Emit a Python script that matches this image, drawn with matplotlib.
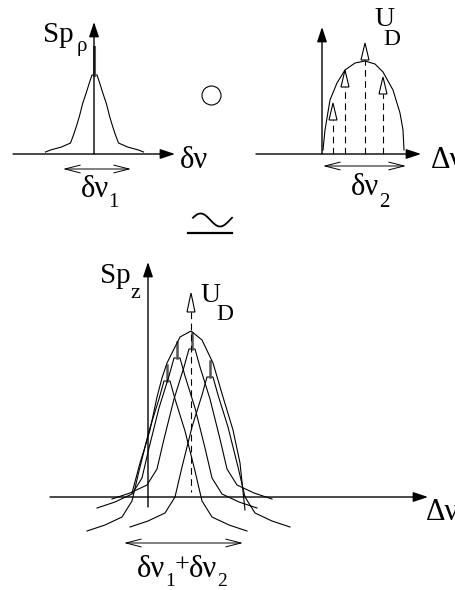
#!/usr/bin/env python3
"""
Schematic: narrow line spectrum convolved with Doppler profile
"""

import numpy as np
import matplotlib.pyplot as plt
from matplotlib.patches import Circle, Polygon

# narrow line (top left), half profile: offset from centre, height above base
NARROW_DX = [2.5, 5.5, 8, 12, 15, 18, 21, 24, 33, 44, 49]
NARROW_H = [77, 68, 60, 48, 36, 26, 17, 9, 5, 2, 0]
NARROW_SPIKE = 105

# broadened copies (bottom), half profile
WIDE_DX = [3, 8, 18, 28, 35, 45, 62, 80]
WIDE_H = [150, 132, 100, 60, 30, 14, 6, 0]
WIDE_SPIKE = 166
wide_centres = [167, 177, 192, 210]
wide_bases = [531, 508, 499, 527]

# Doppler dome (top right)
dome_x = [323, 325, 330, 337, 345, 355, 365, 375, 383, 393, 400, 403, 404]
dome_y = [150, 130, 100, 83, 70, 63, 61, 64, 72, 90, 113, 130, 150]
comp_x = [333, 345, 365, 383]
comp_y = [120, 87, 60, 94]

# envelope (bottom)
env_x = [132, 140, 145, 150, 157, 162, 167, 180, 191, 202, 213, 223, 233, 240, 245]
env_y = [493, 463, 447, 430, 397, 378, 363, 337, 331, 340, 363, 397, 430, 463, 510]

LW = 0.8
FONT = 'Liberation Serif'
DASH = (0, (6, 4))


def profile(cx, base, dx, h, spike):
    xs = [cx - d for d in dx[::-1]] + [cx + d for d in dx]
    ys = [base - v for v in h[::-1]] + [base - v for v in h]
    return np.array(xs), np.array(ys), (cx, base - h[0], base - spike)


def axis_arrow(ax, start, tip):
    ax.annotate('', xy=tip, xytext=start,
                arrowprops=dict(arrowstyle='-|>,head_length=0.9,head_width=0.3',
                                color='k', lw=1.0, shrinkA=0, shrinkB=0))


def span_arrow(ax, x0, x1, y):
    ax.annotate('', xy=(x1, y), xytext=(x0, y),
                arrowprops=dict(arrowstyle='<->,head_length=1.1,head_width=0.28',
                                color='k', lw=0.7, shrinkA=0, shrinkB=0))


def triangle(ax, x, top, bottom, half=4):
    ax.add_patch(Polygon([(x - half, bottom), (x + half, bottom), (x, top)],
                         closed=True, fill=False, ec='k', lw=LW))


def txt(ax, x, y, s, size):
    ax.text(x, y, s, fontsize=size, family=FONT, ha='left', va='baseline')


def main():
    fig = plt.figure(figsize=(4.56, 5.90), dpi=100)
    ax = fig.add_axes([0, 0, 1, 1])
    ax.set_xlim(0, 456)
    ax.set_ylim(590, 0)
    ax.axis('off')

    # --- top left panel
    axis_arrow(ax, (13, 154), (175, 154))
    axis_arrow(ax, (94, 154), (94, 22))
    xs, ys, (sx, sy0, sy1) = profile(94.5, 152, NARROW_DX, NARROW_H, NARROW_SPIKE)
    ax.plot(xs, ys, color='k', lw=LW)
    ax.plot([sx, sx], [sy0, sy1], color='#555555', lw=2.2)
    span_arrow(ax, 63, 131, 169)
    txt(ax, 43, 42, 'Sp', 21)
    txt(ax, 77, 51, 'ρ', 15)
    txt(ax, 180, 168, 'δν', 22)
    txt(ax, 81, 197, 'δν', 22)
    txt(ax, 108, 207, '1', 15)

    ax.add_patch(Circle((211.5, 95.5), 9.5, fill=False, ec='k', lw=LW))

    # --- top right panel
    axis_arrow(ax, (256, 154), (421, 154))
    axis_arrow(ax, (322, 154), (322, 27))
    ax.plot(dome_x, dome_y, color='k', lw=LW)
    for x, y in zip(comp_x, comp_y):
        ax.plot([x, x], [154, y], color='k', lw=LW, ls=DASH)
        triangle(ax, x, y - 17, y)
    txt(ax, 374, 26, 'U', 20)
    txt(ax, 383, 45, 'D', 17)
    txt(ax, 431, 168, 'Δν', 22)
    span_arrow(ax, 323, 406, 166)
    txt(ax, 351, 195, 'δν', 22)
    txt(ax, 379, 207, '2', 15)

    # --- tilde (convolution) sign over a bar
    t = np.linspace(0, 2 * np.pi, 60)
    ax.plot(193 + 39 * t / (2 * np.pi), 220 - 6.5 * np.sin(t + 0.35),
            color='k', lw=1.3)
    ax.plot([188, 232], [233, 233], color='k', lw=1.6)

    # --- bottom panel
    axis_arrow(ax, (50, 497), (428, 497))
    axis_arrow(ax, (148, 507), (148, 262))
    for cx, base in zip(wide_centres, wide_bases):
        xs, ys, (sx, sy0, sy1) = profile(cx, base, WIDE_DX, WIDE_H, WIDE_SPIKE)
        ax.plot(xs, ys, color='k', lw=LW)
        ax.plot([sx, sx], [sy0, sy1], color='#555555', lw=1.8)
    ax.plot(env_x, env_y, color='k', lw=LW)
    ax.plot([191, 191], [312, 492], color='k', lw=LW, ls=DASH)
    triangle(ax, 191, 293, 312, 4)
    txt(ax, 200, 302, 'U', 20)
    txt(ax, 216, 320, 'D', 17)
    txt(ax, 100, 283, 'Sp', 21)
    txt(ax, 130, 298, 'z', 16)
    txt(ax, 426, 520, 'Δν', 22)
    span_arrow(ax, 124, 243, 543)
    txt(ax, 137, 577, 'δν', 22)
    txt(ax, 165, 586, '1', 14)
    txt(ax, 175, 572, '+', 19)
    txt(ax, 189, 577, 'δν', 22)
    txt(ax, 217, 586, '2', 14)

    fig.savefig('out.png', dpi=100)


if __name__ == "__main__":
    main()
